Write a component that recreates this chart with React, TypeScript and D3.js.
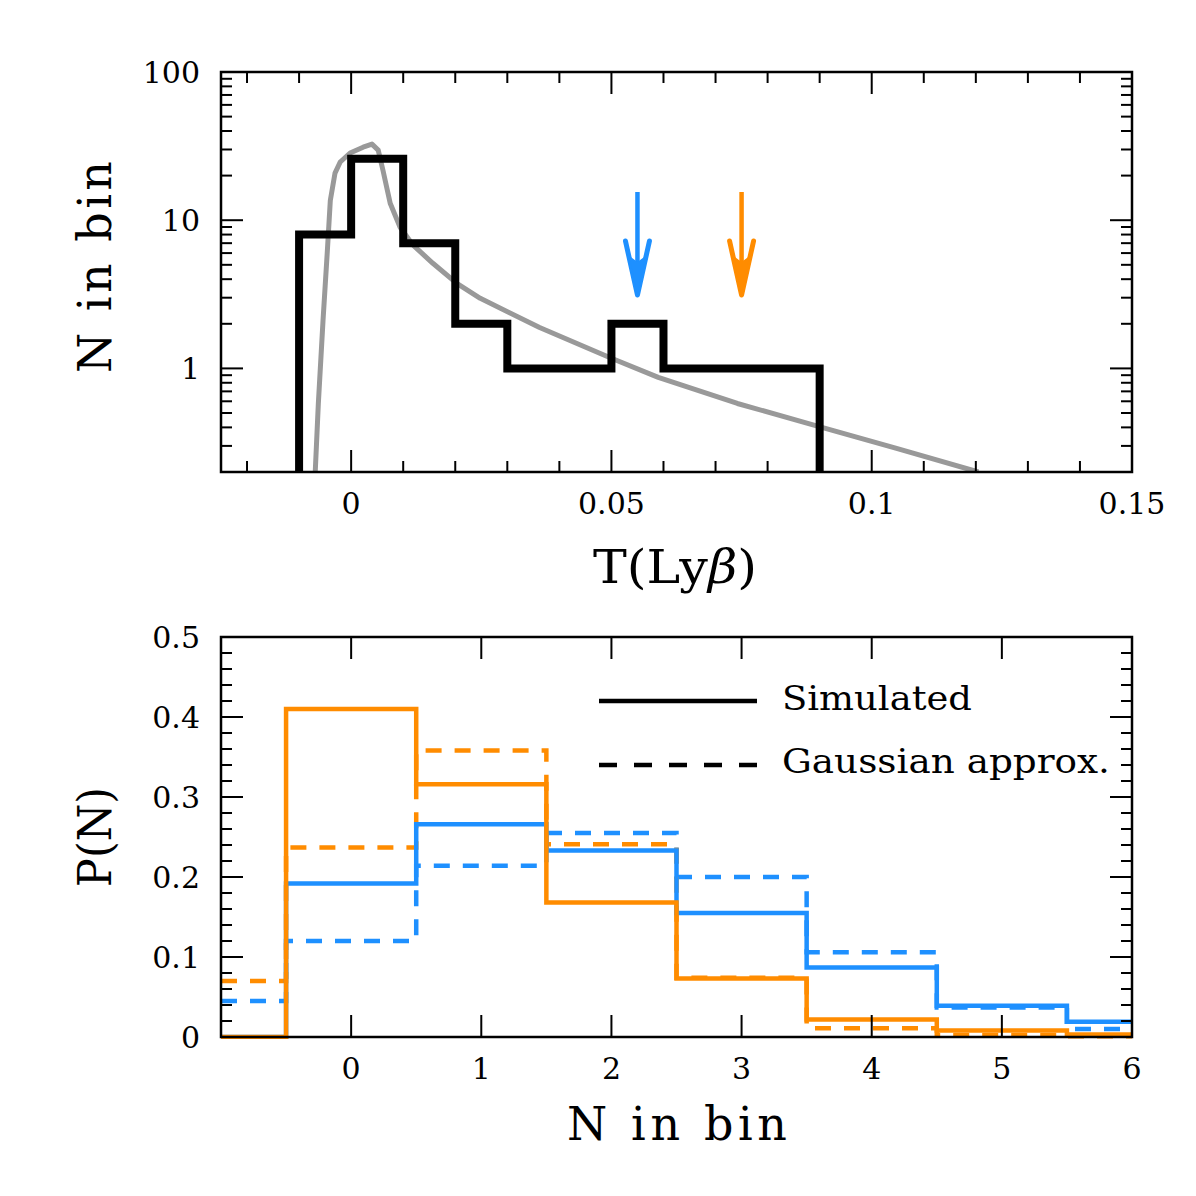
import React from "react";
import * as d3 from "d3";

// ---------- data ----------
const histEdges = [-0.01, 0, 0.01, 0.02, 0.03, 0.04, 0.05, 0.06, 0.07, 0.08, 0.09];
const histCounts = [8, 26, 7, 2, 1, 1, 2, 1, 1, 1];

const curveT = [-0.0069, -0.0063, -0.0054, -0.0046, -0.004, -0.0031, -0.0021, -0.0002, 0.0023, 0.004, 0.0052, 0.0061, 0.0075, 0.0094, 0.0119, 0.0157, 0.0203, 0.0248, 0.0362, 0.05, 0.059, 0.0742, 0.0894, 0.1046, 0.1205];
const curveN = [0.2, 0.58, 2.11, 5.98, 13.6, 20.8, 24.7, 28.4, 31.1, 32.6, 29.7, 21.8, 13.0, 8.97, 6.78, 5.12, 3.75, 2.97, 1.89, 1.17, 0.87, 0.58, 0.41, 0.29, 0.2];

const arrowT = [0.055, 0.075];
const arrowColors = ["#1e90ff", "#ff8c00"];

const binEdges = [-1, -0.5, 0.5, 1.5, 2.5, 3.5, 4.5, 5.5, 6];
const orangeSim = [0, 0.41, 0.316, 0.168, 0.073, 0.022, 0.008, 0.003];
const orangeGauss = [0.07, 0.237, 0.358, 0.241, 0.074, 0.011, 0.0025, 0.001];
const blueSim = [0, 0.192, 0.266, 0.233, 0.155, 0.087, 0.039, 0.019];
const blueGauss = [0.045, 0.12, 0.214, 0.255, 0.2, 0.106, 0.037, 0.01];

const topXTicks = [0, 0.05, 0.1, 0.15];
const topXTickLabels = ["0", "0.05", "0.1", "0.15"];
const topYTicks = [1, 10, 100];
const topYTickLabels = ["1", "10", "100"];
const botXTicks = [0, 1, 2, 3, 4, 5, 6];
const botYTicks = [0, 0.1, 0.2, 0.3, 0.4, 0.5];
const botYTickLabels = ["0", "0.1", "0.2", "0.3", "0.4", "0.5"];

const BLUE = "#1e90ff";
const ORANGE = "#ff8c00";
const FONT = "'DejaVu Serif', serif";

// ---------- layout ----------
const L = 221, R = 1132;
const T1 = 72, B1 = 472;
const T2 = 637, B2 = 1037;

const xTop = d3.scaleLinear().domain([-0.025, 0.15]).range([L, R]);
const yTop = d3.scaleLog().domain([0.2, 100]).range([B1, T1]);
const xBot = d3.scaleLinear().domain([-1, 6]).range([L, R]);
const yBot = d3.scaleLinear().domain([0, 0.5]).range([B2, T2]);

function stepPoints(edges: number[], vals: number[]): [number, number][] {
  const pts: [number, number][] = [];
  vals.forEach((v, i) => {
    pts.push([edges[i], v]);
    pts.push([edges[i + 1], v]);
  });
  return pts;
}

export default function App() {
  const topLine = d3.line<[number, number]>().x((d) => xTop(d[0])).y((d) => yTop(d[1]));
  const botLine = d3.line<[number, number]>().x((d) => xBot(d[0])).y((d) => yBot(d[1]));

  const histPts: [number, number][] = [
    [histEdges[0], 0.1],
    ...stepPoints(histEdges, histCounts),
    [histEdges[histEdges.length - 1], 0.1],
  ];
  const curvePts: [number, number][] = curveT.map((t, i) => [t, curveN[i]]);

  const topMinorX = d3.range(-0.02, 0.1451, 0.01);
  const logMinor: number[] = [];
  [0.1, 1, 10].forEach((dec) => {
    for (let k = 2; k <= 9; k++) {
      const v = k * dec;
      if (v >= 0.2 && v <= 100) logMinor.push(v);
    }
  });
  const botMinorY = d3.range(0, 0.5001, 0.02);

  const MAJ = 22, MIN = 11;
  const tickStyle = { stroke: "#000", strokeWidth: 2 };
  const TICKFS = 30;

  const series = [
    { vals: blueGauss, color: BLUE, dash: "16 13" },
    { vals: orangeGauss, color: ORANGE, dash: "16 13" },
    { vals: blueSim, color: BLUE, dash: undefined },
    { vals: orangeSim, color: ORANGE, dash: undefined },
  ];

  return (
    <div style={{ position: "absolute", left: 0, top: 0 }}>
      <svg width={1196} height={1196} viewBox="0 0 1196 1196" style={{ display: "block", background: "#fff" }}>
        <defs>
          <clipPath id="clipTop">
            <rect x={L} y={T1} width={R - L} height={B1 - T1} />
          </clipPath>
          <clipPath id="clipBot">
            <rect x={L} y={T2 - 2} width={R - L} height={B2 - T2 + 4} />
          </clipPath>
        </defs>

        {/* ================= TOP PANEL ================= */}
        <g clipPath="url(#clipTop)">
          <path d={topLine(curvePts) || ""} fill="none" stroke="#999999" strokeWidth={5} strokeLinejoin="round" />
          <path d={topLine(histPts) || ""} fill="none" stroke="#000" strokeWidth={8} strokeLinejoin="miter" />
        </g>

        {/* arrows */}
        {arrowT.map((t, i) => {
          const x = xTop(t);
          const c = arrowColors[i];
          return (
            <g key={"arr" + i}>
              <line x1={x} y1={192} x2={x} y2={288} stroke={c} strokeWidth={4.5} />
              <path
                d={`M${x - 12},241 L${x},295 L${x + 12},241`}
                fill="none"
                stroke={c}
                strokeWidth={5}
                strokeLinecap="round"
                strokeLinejoin="round"
              />
              <path d={`M${x - 8},256 L${x},295 L${x + 8},256 L${x},262 Z`} fill={c} />
            </g>
          );
        })}

        {/* top panel ticks */}
        {topMinorX.map((v, i) => {
          const x = xTop(v);
          const isMaj = Math.abs(Math.round(v / 0.05) * 0.05 - v) < 1e-6;
          const len = isMaj ? MAJ : MIN;
          return (
            <g key={"tx" + i}>
              <line x1={x} y1={B1} x2={x} y2={B1 - len} {...tickStyle} />
              <line x1={x} y1={T1} x2={x} y2={T1 + len} {...tickStyle} />
            </g>
          );
        })}
        {topYTicks.map((v, i) => (
          <g key={"tyM" + i}>
            <line x1={L} y1={yTop(v)} x2={L + MAJ} y2={yTop(v)} {...tickStyle} />
            <line x1={R} y1={yTop(v)} x2={R - MAJ} y2={yTop(v)} {...tickStyle} />
          </g>
        ))}
        {logMinor.map((v, i) => (
          <g key={"tym" + i}>
            <line x1={L} y1={yTop(v)} x2={L + MIN} y2={yTop(v)} {...tickStyle} />
            <line x1={R} y1={yTop(v)} x2={R - MIN} y2={yTop(v)} {...tickStyle} />
          </g>
        ))}
        <rect x={L} y={T1} width={R - L} height={B1 - T1} fill="none" stroke="#000" strokeWidth={2.5} />

        {/* top tick labels */}
        {topXTicks.map((v, i) => (
          <text key={"txl" + i} x={xTop(v)} y={514} fontFamily={FONT} fontSize={TICKFS} textAnchor="middle">
            {topXTickLabels[i]}
          </text>
        ))}
        {topYTicks.map((v, i) => (
          <text key={"tyl" + i} x={200} y={yTop(v) + 11} fontFamily={FONT} fontSize={TICKFS} textAnchor="end">
            {topYTickLabels[i]}
          </text>
        ))}

        {/* top titles */}
        <text x={675} y={583} fontFamily={FONT} fontSize={46} textAnchor="middle" textLength={164} lengthAdjust="spacingAndGlyphs">
          T(Ly<tspan fontStyle="italic">β</tspan>)
        </text>
        <text
          transform="translate(111,267) rotate(-90)"
          fontFamily={FONT}
          fontSize={46}
          textAnchor="middle"
          textLength={212}
          lengthAdjust="spacing"
        >
          N in bin
        </text>

        {/* ================= BOTTOM PANEL ================= */}
        <g clipPath="url(#clipBot)">
          {series.map((s, i) => (
            <path
              key={"s" + i}
              d={botLine(stepPoints(binEdges, s.vals)) || ""}
              fill="none"
              stroke={s.color}
              strokeWidth={4.5}
              strokeDasharray={s.dash}
              strokeLinejoin="miter"
            />
          ))}
        </g>

        {/* legend */}
        <line x1={599} y1={701} x2={757} y2={701} stroke="#000" strokeWidth={4.5} />
        <line x1={599} y1={765} x2={757} y2={765} stroke="#000" strokeWidth={4.5} strokeDasharray="18 17" />
        <text x={782} y={710} fontFamily={FONT} fontSize={33} textLength={190} lengthAdjust="spacingAndGlyphs">
          Simulated
        </text>
        <text x={782} y={773} fontFamily={FONT} fontSize={33} textLength={328} lengthAdjust="spacingAndGlyphs">
          Gaussian approx.
        </text>

        {/* bottom ticks */}
        {botXTicks.map((v, i) => {
          const x = xBot(v);
          return (
            <g key={"bx" + i}>
              <line x1={x} y1={B2} x2={x} y2={B2 - MAJ} {...tickStyle} />
              <line x1={x} y1={T2} x2={x} y2={T2 + MAJ} {...tickStyle} />
            </g>
          );
        })}
        {botMinorY.map((v, i) => {
          const y = yBot(v);
          const isMaj = Math.abs(Math.round(v / 0.1) * 0.1 - v) < 1e-6;
          const len = isMaj ? MAJ : MIN;
          return (
            <g key={"by" + i}>
              <line x1={L} y1={y} x2={L + len} y2={y} {...tickStyle} />
              <line x1={R} y1={y} x2={R - len} y2={y} {...tickStyle} />
            </g>
          );
        })}
        <rect x={L} y={T2} width={R - L} height={B2 - T2} fill="none" stroke="#000" strokeWidth={2.5} />

        {/* bottom tick labels */}
        {botXTicks.map((v, i) => (
          <text key={"bxl" + i} x={xBot(v)} y={1079} fontFamily={FONT} fontSize={TICKFS} textAnchor="middle">
            {String(v)}
          </text>
        ))}
        {botYTicks.map((v, i) => (
          <text key={"byl" + i} x={200} y={yBot(v) + 11} fontFamily={FONT} fontSize={TICKFS} textAnchor="end">
            {botYTickLabels[i]}
          </text>
        ))}

        {/* bottom titles */}
        <text x={677} y={1140} fontFamily={FONT} fontSize={46} textAnchor="middle" textLength={220} lengthAdjust="spacing">
          N in bin
        </text>
        <text
          transform="translate(111,837) rotate(-90)"
          fontFamily={FONT}
          fontSize={46}
          textAnchor="middle"
          textLength={100}
          lengthAdjust="spacingAndGlyphs"
        >
          P(N)
        </text>
      </svg>
    </div>
  );
}
